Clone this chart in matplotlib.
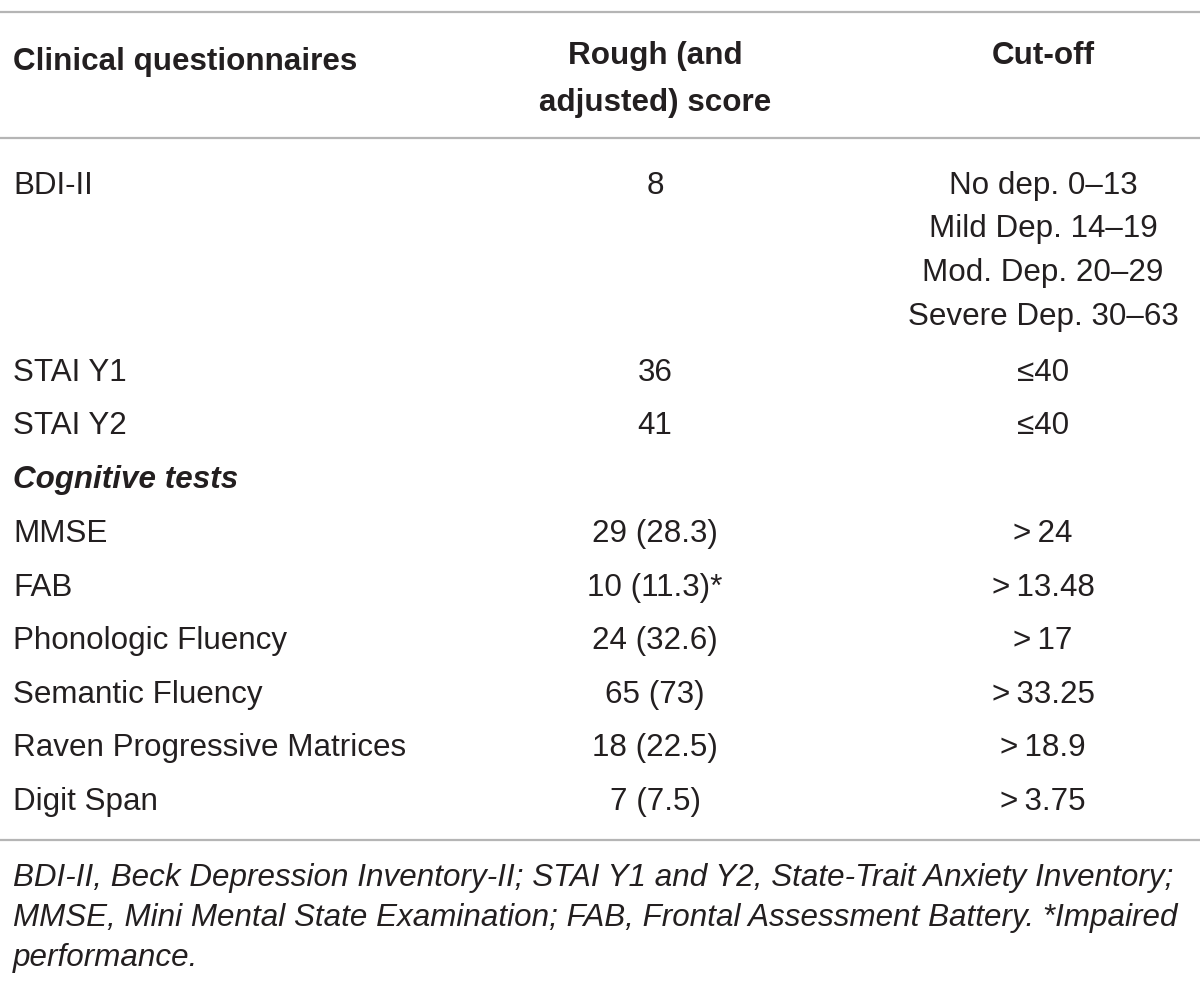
import matplotlib.pyplot as plt

# Table content
questionnaires = ['BDI-II', 'STAI Y1', 'STAI Y2']
questionnaire_scores = ['8', '36', '41']
questionnaire_cutoffs = [
    ['No dep. 0\u201313', 'Mild Dep. 14\u201319', 'Mod. Dep. 20\u201329', 'Severe Dep. 30\u201363'],
    ['\u226440'],
    ['\u226440'],
]
section_label = 'Cognitive tests'
tests = ['MMSE', 'FAB', 'Phonologic Fluency', 'Semantic Fluency',
         'Raven Progressive Matrices', 'Digit Span']
test_scores = ['29 (28.3)', '10 (11.3)*', '24 (32.6)', '65 (73)', '18 (22.5)', '7 (7.5)']
test_cutoffs = ['>\u200924', '>\u200913.48', '>\u200917', '>\u200933.25', '>\u200918.9', '>\u20093.75']
headers = ['Clinical questionnaires', ['Rough (and', 'adjusted) score'], 'Cut-off']
footnote = ['BDI-II, Beck Depression Inventory-II; STAI Y1 and Y2, State-Trait Anxiety Inventory;',
            'MMSE, Mini Mental State Examination; FAB, Frontal Assessment Battery. *Impaired',
            'performance.']

W, H = 1200, 989
fig = plt.figure(figsize=(W / 100, H / 100), dpi=100)
ax = fig.add_axes([0, 0, 1, 1])
ax.set_xlim(0, W)
ax.set_ylim(H, 0)
ax.axis('off')

font = 'Liberation Sans'
fs = 22.6
txt = '#231f20'
x0, x1, x2 = 13, 655, 1043
dy = 3  # small vertical offset for centred text

# rules
for y in [12, 138, 840]:
    ax.plot([0, W], [y, y], color='#b5b5b5', lw=1.6)

# header
ax.text(x0, 59 + dy, headers[0], fontsize=fs, fontweight='bold', family=font, color=txt, va='center')
for i, h in enumerate(headers[1]):
    ax.text(x1, 53 + dy + i * 47, h, fontsize=fs, fontweight='bold', family=font, color=txt,
            va='center', ha='center')
ax.text(x2, 53 + dy, headers[2], fontsize=fs, fontweight='bold', family=font, color=txt,
        va='center', ha='center')

# questionnaire rows
row_y = [183, 370, 423]
for name, score, cuts, y in zip(questionnaires, questionnaire_scores, questionnaire_cutoffs, row_y):
    ax.text(x0, y + dy, name, fontsize=fs, family=font, color=txt, va='center')
    ax.text(x1, y + dy, score, fontsize=fs, family=font, color=txt, va='center', ha='center')
    for i, c in enumerate(cuts):
        ax.text(x2, y + dy + i * 43.5, c, fontsize=fs, family=font, color=txt,
                va='center', ha='center')

ax.text(x0, 477 + dy, section_label, fontsize=fs, fontweight='bold', style='italic',
        family=font, color=txt, va='center')

y = 531
for name, score, cut in zip(tests, test_scores, test_cutoffs):
    ax.text(x0, y + dy, name, fontsize=fs, family=font, color=txt, va='center')
    ax.text(x1, y + dy, score, fontsize=fs, family=font, color=txt, va='center', ha='center')
    ax.text(x2, y + dy, cut, fontsize=fs, family=font, color=txt, va='center', ha='center')
    y += 53.6

for i, line in enumerate(footnote):
    ax.text(x0, 878 + i * 40, line, fontsize=fs, style='italic', family=font,
            color=txt, va='center')

fig.savefig('out.png', dpi=100)
